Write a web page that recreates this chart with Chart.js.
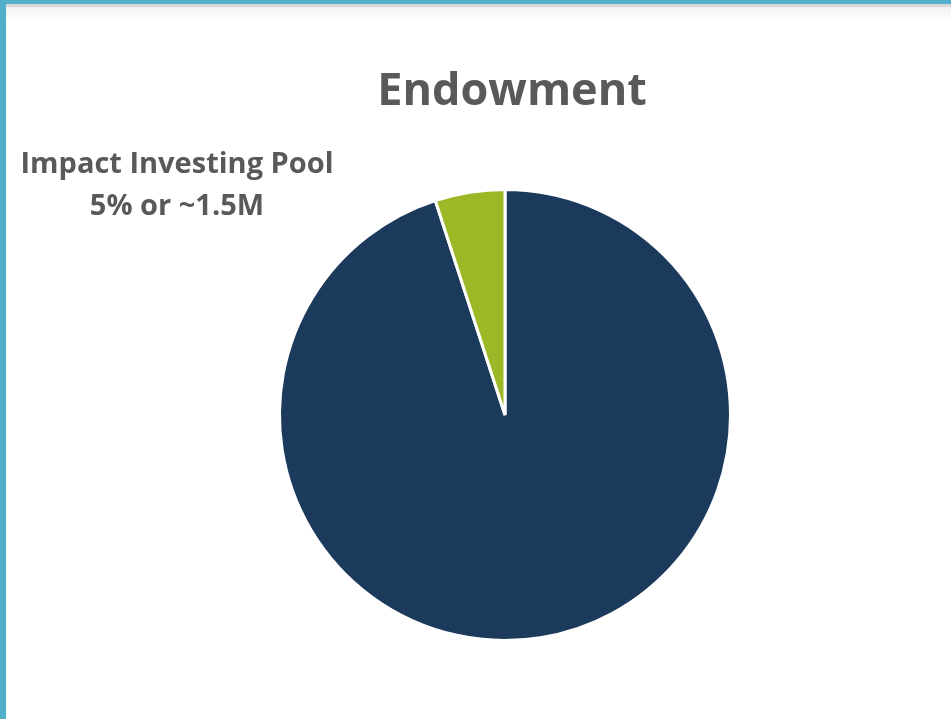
<!DOCTYPE html>
<html>
<head>
<meta charset="utf-8">
<script src="https://cdn.jsdelivr.net/npm/chart.js@4"></script>
<style>
  html,body{margin:0;padding:0;background:#fff;overflow:hidden}
  .frame{position:relative;width:951px;height:719px;background:#fff}
  .frame canvas{position:absolute;left:0;top:0}
  /* slide frame: blue rule on top and left, grey line + soft shadow under the top */
  .bar-top{position:absolute;left:0;top:0;width:951px;height:4px;background:#52afcb}
  .bar-grey{position:absolute;left:0;top:4px;width:951px;height:3px;background:#d7d7d7}
  .bar-shade{position:absolute;left:0;top:7px;width:951px;height:14px;background:linear-gradient(#f1f1f1,#fff)}
  .bar-left{position:absolute;left:0;top:0;width:6px;height:719px;background:#52afcb}
</style>
</head>
<body>
<div class="frame">
  <canvas id="chartEndow" width="951" height="719"></canvas>
  <div class="bar-shade"></div>
  <div class="bar-grey"></div>
  <div class="bar-top"></div>
  <div class="bar-left"></div>
</div>
<script>
// ===== DATA =====
const TITLE='Endowment';
const labels=['Endowment','Impact Investing Pool'];
const shares=[95,5];               // % of endowment
const poolAmount='~1.5M';
const NAVY='#1b3a5c',LIME='#9db827',GREY='#595959';

// ===== TEXT (title + callout for the pool slice) =====
const textPlugin={
  id:'endowText',
  afterDraw(chart){
    const ctx=chart.ctx;
    ctx.save();
    ctx.fillStyle=GREY;
    ctx.textAlign='center';
    ctx.textBaseline='alphabetic';
    ctx.font="bold 45px 'Open Sans'";
    ctx.fillText(TITLE,512,105);
    ctx.font="bold 29px 'Open Sans'";
    ctx.fillText(labels[1],177,173);
    ctx.fillText(shares[1]+'% or '+poolAmount,177,215);
    ctx.restore();
  }
};

new Chart(document.getElementById('chartEndow'),{
  type:'pie',
  data:{labels,datasets:[{data:shares,backgroundColor:[NAVY,LIME],borderColor:'#fff',borderWidth:3}]},
  options:{
    responsive:false,animation:false,
    layout:{padding:{top:188,bottom:77,left:59,right:0}},
    plugins:{legend:{display:false},tooltip:{enabled:false},title:{display:false}}
  },
  plugins:[textPlugin]
});
</script>
</body>
</html>
